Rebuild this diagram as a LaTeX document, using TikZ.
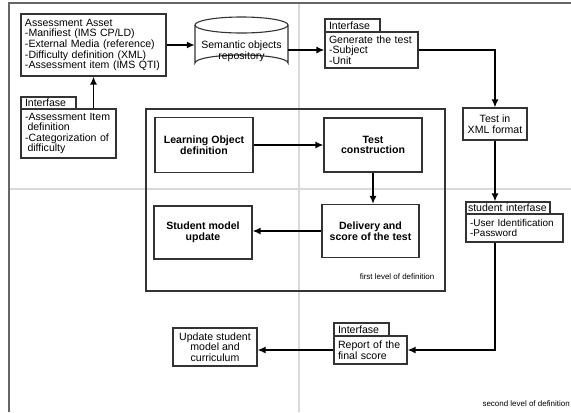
\documentclass[tikz,border=0pt]{standalone}
\usepackage{fontspec}
\setmainfont{Liberation Sans}
\usetikzlibrary{arrows.meta,calc}
\tikzset{
 bx/.style={draw=black!80, line width=1.1bp, fill=white, inner sep=0pt, font=\fontsize{10.6}{10.6}\selectfont},
 lbox/.style={bx, align=left, inner xsep=4bp, text width=#1},
 cbox/.style={bx, align=center},
 bbox/.style={bx, align=center, font=\fontsize{10.6}{10.6}\selectfont\bfseries},
 arr/.style={-{Latex[length=8bp,width=7bp]}, line width=1.8bp},
 frameline/.style={draw=black!60, line width=1.3bp},
 guide/.style={draw=black!15, line width=1.1bp},
 small/.style={font=\fontsize{8}{9}\selectfont, inner sep=0pt}
}
\begin{document}
\begin{tikzpicture}[x=1bp,y=-1bp]
\useasboundingbox (0,0) rectangle (571,412);
% guides and page frame
\draw[guide] (9,189) -- (571,189);
\draw[guide] (299,3) -- (299,412);
\draw[frameline] (9,412) -- (9,3) -- (571,3);

% first level frame
\node[draw=black!80, line width=1.1bp, minimum width=299bp, minimum height=182bp, inner sep=0pt] (lvl1) at (295.5,200) {};
\node[small] (lvl1lab) at (397,277) {first level of definition};

% assessment asset
\node[lbox=137bp, minimum height=62bp] (asset) at (93.5,45) {Assessment Asset\\-Manifiest (IMS CP/LD)\\-External Media (reference)\\-Difficulty definition (XML)\\-Assessment item (IMS QTI)};

% left interface
\node[lbox=47bp, minimum height=12bp] (ltab) at (48.5,103) {Interfase};
\node[lbox=87bp, minimum height=49bp] (lbox1) at (68.5,133.5) {-Assessment Item\\\hspace*{2.5bp}definition\\-Categorization of\\\hspace*{2.5bp}difficulty};

% repository cylinder
\fill[white] (195,25) -- (195,63) arc[start angle=180, end angle=360, x radius=46.5, y radius=8] -- (288,25) -- cycle;
\draw[black!80, line width=1.1bp] (195,25) -- (195,63) arc[start angle=180, end angle=360, x radius=46.5, y radius=8] -- (288,25);
\draw[black!80, line width=1.1bp, fill=white] (241.5,25) ellipse[x radius=46.5, y radius=8];
\node[align=center, inner sep=0pt, minimum width=93bp, minimum height=40bp, font=\fontsize{10.6}{10.6}\selectfont] (repo) at (241.5,51) {Semantic objects\\repository};

% generate test interface
\node[lbox=47bp, minimum height=13bp] (gtab) at (352.5,25.5) {Interfase};
\node[lbox=85bp, minimum height=36bp] (gen) at (371.5,50) {Generate the test\\-Subject\\-Unit};

% test in XML
\node[cbox, minimum width=64bp, minimum height=32bp] (xml) at (495,124) {Test in\\XML format};

% student interface
\node[bx, align=left, inner xsep=2bp, text width=80bp, minimum height=12bp] (studtab) at (508,208) {student interfase};
\node[lbox=89bp, minimum height=28bp, font=\fontsize{10}{10.6}\selectfont] (stud) at (514.5,228) {-User Identification\\-Password};

% report interface
\node[lbox=47bp, minimum height=13bp] (rtab) at (361.5,329.5) {Interfase};
\node[lbox=65bp, minimum height=28bp] (report) at (370.5,350) {Report of the\\final score};

% update student model
\node[cbox, minimum width=84bp, minimum height=38bp] (update) at (215,347) {Update student\\model and\\curriculum};

% first level inner boxes
\node[bbox, minimum width=98bp, minimum height=55bp] (lo) at (204,145) {Learning Object\\definition};
\node[bbox, minimum width=98bp, minimum height=54bp] (tc) at (373,145) {Test\\construction};
\node[bbox, minimum width=97bp, minimum height=53bp] (del) at (370.5,231) {Delivery and\\score of the test};
\node[bbox, minimum width=98bp, minimum height=53bp] (smu) at (203,232.5) {Student model\\update};

% second level label
\node[small, anchor=east] (lvl2lab) at (570,404) {second level of definition};

% connectors
\draw[arr] (asset.east) -- (asset.east -| repo.west);
\draw[arr] (repo.east |- gen.west) -- (gen.west);
\draw[arr] (gen.east) -| (xml.north);
\draw[arr] (xml.south) -- (xml.south |- studtab.north);
\draw[arr] (stud.south -| xml.south) |- (report.east);
\draw[arr] (report.west) -- (report.west -| update.east);
\draw[arr] (lbox1.north -| asset.south) -- (asset.south);
\draw[arr] (lo.east) -- (lo.east -| tc.west);
\draw[arr] (tc.south) -- (tc.south |- del.north);
\draw[arr] (del.west) -- (del.west -| smu.east);
\end{tikzpicture}
\end{document}
